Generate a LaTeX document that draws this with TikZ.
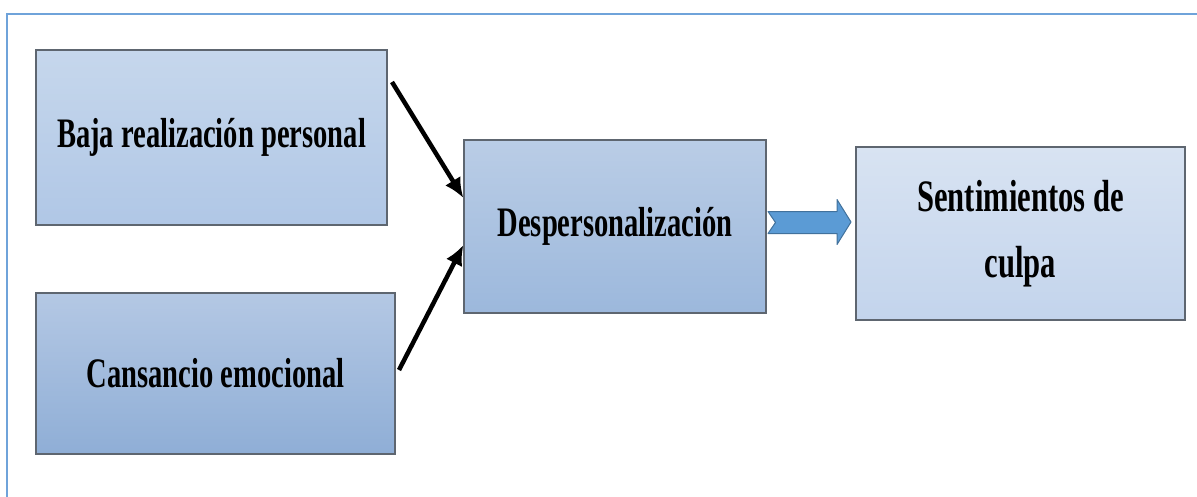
\documentclass[tikz,border=0pt]{standalone}
\usepackage{fontspec}
\usetikzlibrary{arrows.meta}
\newfontfamily\boxfont{Liberation Serif Bold}[FakeStretch=0.68]

\definecolor{framblue}{HTML}{6FA3DA}
\definecolor{boxedge}{HTML}{5E6670}
\definecolor{blockfill}{HTML}{5B9BD5}
\definecolor{blockedge}{HTML}{41719C}
\definecolor{topA}{RGB}{198,215,236}
\definecolor{botA}{RGB}{176,199,230}
\definecolor{topB}{RGB}{180,200,228}
\definecolor{botB}{RGB}{143,174,214}
\definecolor{topC}{RGB}{186,205,230}
\definecolor{botC}{RGB}{156,184,220}
\definecolor{topD}{RGB}{216,227,242}
\definecolor{botD}{RGB}{195,212,236}

\tikzset{
  box/.style={draw=boxedge, line width=1.2pt, rectangle, inner sep=0pt,
    font=\boxfont\fontsize{42}{62}\selectfont, text=black, align=center},
  bigtext/.style={font=\boxfont\fontsize{45}{66}\selectfont},
  link/.style={line width=4.5pt, -{Latex[length=20pt,width=18pt]}},
  frameline/.style={draw=framblue, line width=2.5pt},
}

\begin{document}
\begin{tikzpicture}[x=1pt, y=-1pt]
  \useasboundingbox (0,0) rectangle (1197,496);

  % outer frame (only the top and left edges fall inside the page)
  \draw[frameline] (7,500) -- (7,14) -- (1200,14);

  % boxes
  \node[box, minimum width=351pt, minimum height=175pt,
        top color=topA, bottom color=botA]
        (b1) at (211.5,137.5) {Baja realización personal};
  \node[box, minimum width=359pt, minimum height=161pt,
        top color=topB, bottom color=botB]
        (b2) at (215.5,373.5) {Cansancio emocional};
  \node[box, minimum width=302pt, minimum height=173pt,
        top color=topC, bottom color=botC]
        (b3) at (615,226.5) {Despersonalización};
  \node[box, bigtext, minimum width=329pt, minimum height=173pt,
        top color=topD, bottom color=botD]
        (b4) at (1020.5,233.5) {Sentimientos de\\culpa};

  % converging arrows
  \coordinate (s1) at (392,82);
  \coordinate (s2) at (399,370);
  \draw[link] (s1) -- ([yshift=28.5pt]b3.west);
  \draw[link] (s2) -- ([yshift=-18.5pt]b3.west);

  % notched block arrow
  \fill[blockfill, draw=blockedge, line width=1pt, line join=round]
    (768,211.5) -- (837,211.5) -- (837,199.5) -- (851,222) -- (837,244.5)
    -- (837,233.5) -- (768,233.5) -- (775.5,222.5) -- cycle;
\end{tikzpicture}
\end{document}
